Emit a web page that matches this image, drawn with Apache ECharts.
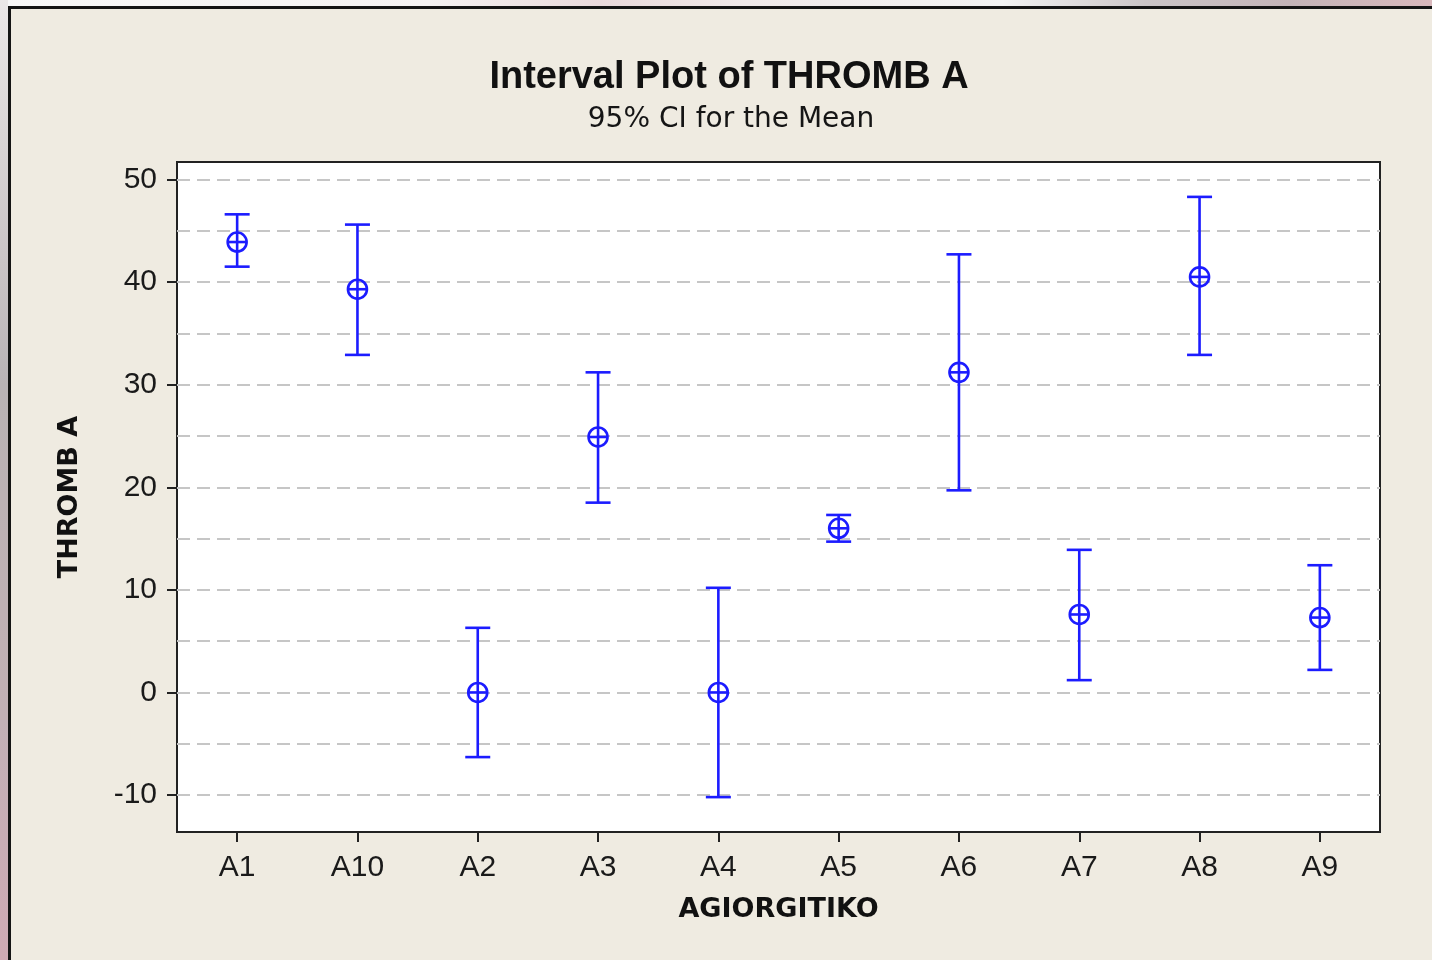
<!DOCTYPE html>
<html>
<head>
<meta charset="utf-8">
<title>Interval Plot of THROMB A</title>
<script src="https://cdn.jsdelivr.net/npm/echarts@6/dist/echarts.min.js"></script>
<style>
  html, body { margin: 0; padding: 0; background: #EFEBE1; }
  #chart { width: 1432px; height: 960px; }
</style>
</head>
<body>
<div id="chart"></div>
<script>
// Groups on the x axis (in the order the software sorted them)
const categories = ['A1', 'A10', 'A2', 'A3', 'A4', 'A5', 'A6', 'A7', 'A8', 'A9'];
// Group means of THROMB A
const means = [43.9, 39.3, 0.0, 24.9, 0.0, 16.0, 31.2, 7.6, 40.5, 7.3];
// 95% confidence interval bounds
const lower = [41.5, 32.9, -6.3, 18.5, -10.2, 14.7, 19.7, 1.2, 32.9, 2.2];
const upper = [46.6, 45.6, 6.3, 31.2, 10.2, 17.3, 42.7, 13.9, 48.3, 12.4];
// Labelled y ticks and dashed reference lines
const yTicks = [-10, 0, 10, 20, 30, 40, 50];
const gridValues = [-10, -5, 0, 5, 10, 15, 20, 25, 30, 35, 40, 45, 50];

const BLUE = '#1c1cff';
const INK = '#1a1a1a';

const intervalData = categories.map((c, i) => [i, means[i], lower[i], upper[i]]);

function renderInterval(params, api) {
  const idx = api.value(0);
  const pMean = api.coord([idx, api.value(1)]);
  const pLo = api.coord([idx, api.value(2)]);
  const pHi = api.coord([idx, api.value(3)]);
  const x = pMean[0];
  const capHalf = 12.5;
  const r = 9.5;
  const style = { stroke: BLUE, lineWidth: 2.6, fill: null };
  return {
    type: 'group',
    children: [
      { type: 'line', shape: { x1: x, y1: pHi[1], x2: x, y2: pLo[1] }, style },
      { type: 'line', shape: { x1: x - capHalf, y1: pHi[1], x2: x + capHalf, y2: pHi[1] }, style },
      { type: 'line', shape: { x1: x - capHalf, y1: pLo[1], x2: x + capHalf, y2: pLo[1] }, style },
      { type: 'circle', shape: { cx: x, cy: pMean[1], r: r }, style: { stroke: BLUE, lineWidth: 2.6, fill: 'rgba(255,255,255,0)' } },
      { type: 'line', shape: { x1: x - r, y1: pMean[1], x2: x + r, y2: pMean[1] }, style }
    ]
  };
}

const chart = echarts.init(document.getElementById('chart'), null, { renderer: 'canvas' });

chart.setOption({
  backgroundColor: '#EFEBE1',
  animation: false,
  title: [
    {
      text: 'Interval Plot of THROMB A',
      left: 724, top: 54, textAlign: 'center',
      textStyle: { fontFamily: 'Liberation Sans', fontWeight: 'bold', fontSize: 38, color: '#111' }
    },
    {
      text: '95% CI for the Mean',
      left: 726, top: 101, textAlign: 'center',
      textStyle: { fontFamily: 'DejaVu Sans', fontWeight: 'normal', fontSize: 28, color: '#151515' }
    }
  ],
  graphic: [
    // strip of desktop showing along the top edge
    {
      type: 'rect', silent: true, z: 100,
      shape: { x: 0, y: 0, width: 1432, height: 6 },
      style: {
        fill: new echarts.graphic.LinearGradient(0, 0, 1, 0, [
          { offset: 0, color: '#f8f8f8' },
          { offset: 0.3, color: '#f5f2f2' },
          { offset: 0.42, color: '#e9d9db' },
          { offset: 0.52, color: '#f0e9e9' },
          { offset: 0.7, color: '#f3f3f3' },
          { offset: 0.8, color: '#cbc5c7' },
          { offset: 0.9, color: '#c4b4b8' },
          { offset: 1, color: '#d9b8bc' }
        ])
      }
    },
    // strip along the left edge
    {
      type: 'rect', silent: true, z: 100,
      shape: { x: 0, y: 0, width: 8, height: 960 },
      style: {
        fill: new echarts.graphic.LinearGradient(0, 0, 0, 1, [
          { offset: 0, color: '#ebe8e8' },
          { offset: 0.4, color: '#b9b3b6' },
          { offset: 0.75, color: '#c2b0b6' },
          { offset: 1, color: '#cfaab4' }
        ])
      }
    },
    // window frame
    {
      type: 'polyline', silent: true, z: 101,
      shape: { points: [[9.5, 960], [9.5, 7.5], [1432, 7.5]] },
      style: { stroke: '#141414', lineWidth: 3, fill: null }
    }
  ],
  grid: {
    left: 177, top: 162, width: 1203, height: 670,
    show: true, backgroundColor: '#ffffff', borderColor: '#222222', borderWidth: 2
  },
  xAxis: {
    type: 'category',
    data: categories,
    boundaryGap: true,
    name: 'AGIORGITIKO',
    nameLocation: 'middle',
    nameGap: 64,
    nameTextStyle: { fontFamily: 'DejaVu Sans', fontWeight: 'bold', fontSize: 27, color: '#111' },
    axisLine: { show: true, onZero: false, lineStyle: { color: '#222', width: 2 } },
    axisTick: { show: true, alignWithLabel: true, length: 10, lineStyle: { color: '#222', width: 2 } },
    axisLabel: { margin: 21, fontFamily: 'Liberation Sans', fontSize: 30, color: INK },
    splitLine: { show: false }
  },
  yAxis: {
    type: 'value',
    min: -13.6,
    max: 51.7,
    name: 'THROMB A',
    nameLocation: 'middle',
    nameRotate: 90,
    nameGap: 94,
    nameTextStyle: { fontFamily: 'DejaVu Sans', fontWeight: 'bold', fontSize: 27, color: '#111' },
    axisLine: { show: true, onZero: false, lineStyle: { color: '#222', width: 2 } },
    axisTick: { show: true, length: 10, customValues: yTicks, lineStyle: { color: '#222', width: 2 } },
    axisLabel: { margin: 20, customValues: yTicks, fontFamily: 'Liberation Sans', fontSize: 30, color: INK },
    splitLine: { show: false }
  },
  series: [
    {
      // dashed reference lines every 5 units
      type: 'line',
      data: [],
      z: 1,
      silent: true,
      markLine: {
        silent: true,
        symbol: 'none',
        label: { show: false },
        lineStyle: { type: [13, 7], color: '#c6c6c6', width: 2 },
        emphasis: { disabled: true },
        data: gridValues.map(v => ({ yAxis: v }))
      }
    },
    {
      type: 'custom',
      z: 5,
      renderItem: renderInterval,
      encode: { x: 0, y: [1, 2, 3] },
      data: intervalData
    }
  ]
});
</script>
</body>
</html>
